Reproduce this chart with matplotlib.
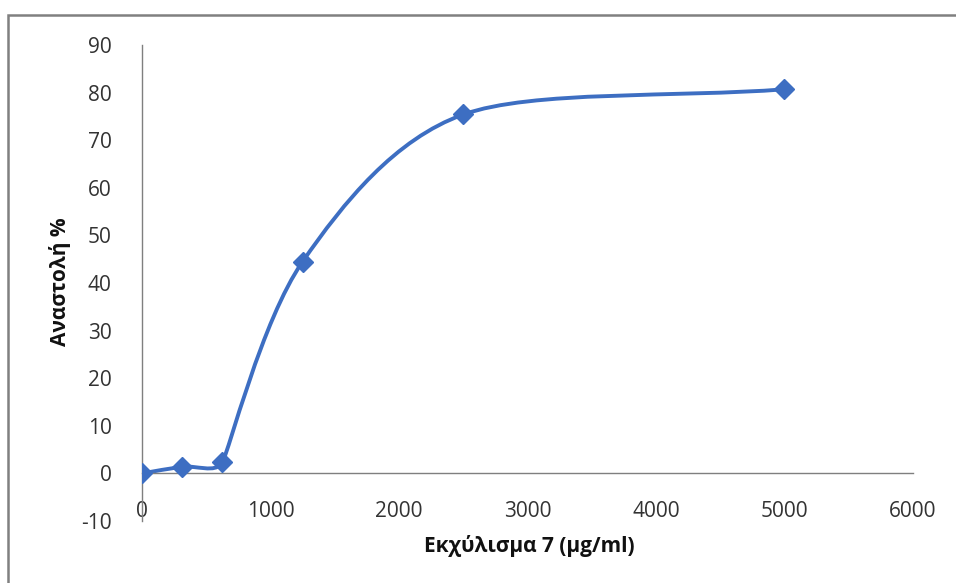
import numpy as np
import matplotlib
matplotlib.use("Agg")
import matplotlib.pyplot as plt
from matplotlib.path import Path
from matplotlib.patches import PathPatch, Rectangle

# data
conc = [0, 312.5, 625, 1250, 2500, 5000]      # μg/ml
inhib = [0, 1.4, 2.3, 44.5, 75.4, 80.7]        # %
xticks = [0, 1000, 2000, 3000, 4000, 5000, 6000]
yticks = [-10, 0, 10, 20, 30, 40, 50, 60, 70, 80, 90]

blue = "#3d6ec2"
plt.rcParams['font.family'] = ['Open Sans', 'DejaVu Sans']
plt.rcParams['axes.unicode_minus'] = False


def smooth_path(ax, x, y):
    # excel-ish smoothed line, built in pixel space then mapped back to data
    tr = ax.transData
    pts = tr.transform(np.column_stack([x, y]).astype(float))
    n = len(pts)
    seg = [np.hypot(*(pts[i + 1] - pts[i])) for i in range(n - 1)]
    tang, hand = [], []
    for i in range(n):
        a = pts[i - 1] if i > 0 else pts[i]
        b = pts[i + 1] if i + 1 < n else pts[i]
        t = b - a
        tang.append(t / np.hypot(*t))
        near = [seg[j] for j in (i - 1, i) if 0 <= j < n - 1]
        hand.append(min(near) / 3)
    verts = [pts[0]]
    codes = [Path.MOVETO]
    for i in range(n - 1):
        p1, p2 = pts[i], pts[i + 1]
        verts += [p1 + tang[i] * hand[i], p2 - tang[i + 1] * hand[i + 1], p2]
        codes += [Path.CURVE4] * 3
    verts = tr.inverted().transform(np.array(verts))
    return Path(verts, codes)


fig = plt.figure(figsize=(9.56, 5.83), dpi=100)
ax = fig.add_axes([142 / 956, 1 - 521 / 583, (913 - 142) / 956, (521 - 45) / 583])
ax.set_xlim(0, 6000)
ax.set_ylim(-10, 90)

ax.add_patch(PathPatch(smooth_path(ax, conc, inhib), facecolor="none",
                       edgecolor=blue, lw=2.8, capstyle="round"))
ax.plot(conc, inhib, ls="none", marker="D", ms=10, color=blue, zorder=3)

ax.set_xticks(xticks)
ax.set_yticks(yticks)

for s in ["top", "right"]:
    ax.spines[s].set_visible(False)
ax.spines["bottom"].set_position(("data", 0))
for s in ["bottom", "left"]:
    ax.spines[s].set_color("#7f7f7f")
    ax.spines[s].set_linewidth(1)
ax.tick_params(axis="both", length=0, labelsize=15, labelcolor="#333333")
ax.tick_params(axis="x", pad=20)
ax.tick_params(axis="y", pad=22)

fig.text(529 / 956, 1 - 546 / 583, "Εκχύλισμα 7 (μg/ml)", ha="center", va="center",
         fontsize=15, fontweight="bold", color="#111111")
fig.text(60 / 956, 1 - 282 / 583, "Αναστολή %", ha="center", va="center",
         rotation=90, fontsize=15, fontweight="bold", color="#111111")

# chart frame (cut off at right and bottom in the reference)
fig.add_artist(Rectangle((8 / 956, -0.1), 1.1, 1 - 15 / 583 + 0.1,
                         transform=fig.transFigure, fill=False,
                         edgecolor="#808080", lw=1.8))

fig.savefig("out.png", dpi=100)
